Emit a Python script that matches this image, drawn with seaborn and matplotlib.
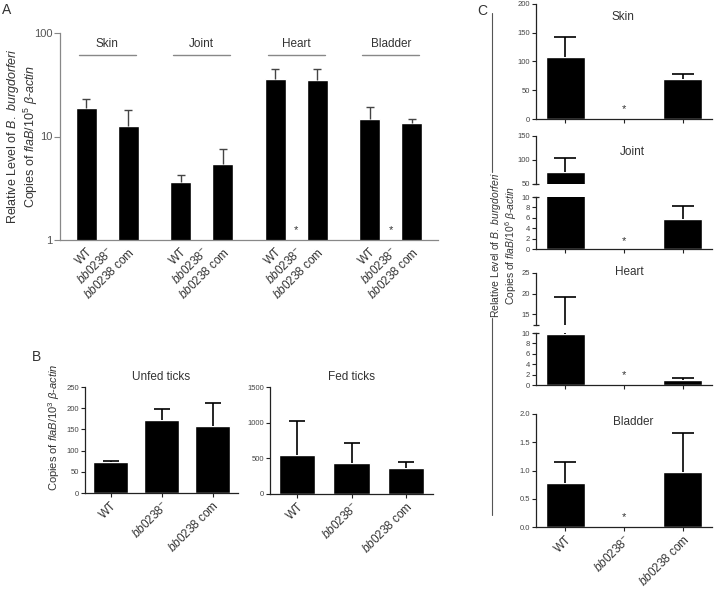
import numpy as np
import pandas as pd
import seaborn as sns
import matplotlib.pyplot as plt
from matplotlib.lines import Line2D

# ---- data ----
strains = ['WT', 'bb0238-', 'bb0238 com']
strain_labels = ['WT', r'$\it{bb0238}^{-}$', r'$\it{bb0238}$ com']

# A: tissue burden, log scale (mutant undetectable)
tissues = ['Skin', 'Joint', 'Heart', 'Bladder']
a_wt = [18.7, 3.6, 35.7, 14.8]
a_wt_err = [4.3, 0.65, 8.9, 4.3]
a_mut = [np.nan, np.nan, np.nan, np.nan]
a_com = [12.6, 5.46, 35.1, 13.6]
a_com_err = [5.4, 2.1, 9.5, 1.2]
a_star = [False, False, True, True]

# B: ticks
b_unfed = [73, 173, 158]
b_unfed_err = [3, 24, 54]
b_fed = [547, 429, 365]
b_fed_err = [476, 290, 84]

# C: tissues, linear scale
c_skin = [108, np.nan, 69]
c_skin_err = [35, 0, 10]
c_joint = [75, np.nan, 5.77]
c_joint_err = [29, 0, 2.5]
c_heart = [9.8, np.nan, 0.9]
c_heart_err = [9.3, 0, 0.4]
c_bladder = [0.78, np.nan, 0.98]
c_bladder_err = [0.37, 0, 0.69]

W, H = 720, 590
TXT = '#333333'

sns.set_style('ticks')
plt.rcParams['font.family'] = ['Liberation Sans', 'DejaVu Sans']
plt.rcParams['mathtext.fontset'] = 'custom'
plt.rcParams['mathtext.rm'] = 'Liberation Sans'
plt.rcParams['mathtext.it'] = 'Liberation Sans:italic'
plt.rcParams['mathtext.sf'] = 'Liberation Sans'
plt.rcParams['text.color'] = TXT
plt.rcParams['axes.labelcolor'] = TXT

fig = plt.figure(figsize=(W / 100, H / 100), dpi=100)


def add_ax(x0, y0, x1, y1):
    return fig.add_axes([x0 / W, 1 - y1 / H, (x1 - x0) / W, (y1 - y0) / H])


def style_ax(ax, spine_color='#222222'):
    for s in ['top', 'right']:
        ax.spines[s].set_visible(False)
    for s in ['left', 'bottom']:
        ax.spines[s].set_color(spine_color)
        ax.spines[s].set_linewidth(0.9)
    ax.tick_params(axis='both', colors=spine_color, labelcolor='#444444',
                   labelsize=5.5, length=3, width=0.8, pad=1.5)


def up_errorbar(ax, x, means, errs, color, lw, capsize):
    # upper whisker only: hide the cap sitting on the bar top
    m = np.array(means, dtype=float)
    e = np.array(errs, dtype=float)
    x = np.asarray(x, dtype=float)
    ok = ~np.isnan(m)
    _, caps, _ = ax.errorbar(x[ok], m[ok], yerr=[np.zeros(ok.sum()), e[ok]],
                             fmt='none', ecolor=color, elinewidth=lw,
                             capsize=capsize, capthick=lw, zorder=3)
    caps[0].set_visible(False)


def draw_bars(ax, means, errs, capsize=6):
    sns.barplot(x=strains, y=means, order=strains, color='black', saturation=1,
                width=0.667, errorbar=None, ax=ax)
    up_errorbar(ax, np.arange(len(strains)), means, errs, 'black', 1.2, capsize)
    ax.set_xlim(-0.5, 2.5)


def rot_labels(ax, size=8.5):
    ax.set_xticks(range(3))
    ax.set_xticklabels(strain_labels, rotation=45, ha='right', va='top',
                       rotation_mode='anchor', fontsize=size, color=TXT)


def star(ax, yfrac):
    ax.text(1, yfrac, '*', transform=ax.get_xaxis_transform(), ha='center',
            va='center', fontsize=8, color=TXT)


def break_mark(ax, yfrac, ms=5):
    ax.plot([0], [yfrac], marker='_', ms=ms, mew=0.9, color='#222222',
            transform=ax.transAxes, clip_on=False)


# ---------------- Panel A ----------------
axA = add_ax(60, 33, 438, 240)
dfA = pd.DataFrame({
    'tissue': np.repeat(tissues, 3),
    'strain': strains * len(tissues),
    'value': np.column_stack([a_wt, a_mut, a_com]).ravel(),
})
sns.barplot(data=dfA, x='tissue', y='value', hue='strain', order=tissues,
            hue_order=strains, palette={s: 'black' for s in strains},
            saturation=1, width=0.667, gap=0, errorbar=None, legend=False,
            ax=axA)
offsets = (np.arange(3) - 1) * 0.667 / 3
xs = np.arange(len(tissues))[:, None] + offsets[None, :]
up_errorbar(axA, xs[:, 0], a_wt, a_wt_err, '#444444', 1.0, 3)
up_errorbar(axA, xs[:, 2], a_com, a_com_err, '#444444', 1.0, 3)
axA.set_yscale('log')
axA.set_ylim(1, 100)
axA.set_xlim(-0.5, 3.5)
axA.set_yticks([1, 10, 100])
axA.set_yticklabels(['1', '10', '100'])
axA.minorticks_off()
style_ax(axA, '#888888')
axA.tick_params(axis='y', labelsize=8, length=4, labelcolor='#555555')
axA.set_xticks(xs.ravel())
axA.set_xticklabels(strain_labels * len(tissues), rotation=45, ha='right',
                    va='top', rotation_mode='anchor', fontsize=8.5, color=TXT)
axA.tick_params(axis='x', length=0, pad=4)
axA.set_xlabel('')
tr = axA.get_xaxis_transform()
for i, t in enumerate(tissues):
    axA.plot([i - 0.3, i + 0.3], [0.894, 0.894], transform=tr, color='#888888',
             lw=1.0, clip_on=False)
    axA.text(i, 0.947, t, transform=tr, ha='center', va='center', fontsize=8.5,
             color=TXT)
    if a_star[i]:
        axA.text(xs[i, 1], 0.05, '*', transform=tr, ha='center', va='center',
                 fontsize=8, color=TXT)
axA.set_ylabel('Relative Level of $\\it{B.\\ burgdorferi}$\n'
               'Copies of $\\it{flaB}$/$10^5$ $\\beta$-$\\it{actin}$',
               fontsize=9, linespacing=1.1)
axA.yaxis.set_label_coords(-0.052, 0.5)

# ---------------- Panel B ----------------
axB1 = add_ax(85, 387, 238, 493)
draw_bars(axB1, b_unfed, b_unfed_err, capsize=5.5)
axB1.set_ylim(0, 250)
axB1.set_yticks(range(0, 251, 50))
style_ax(axB1)
rot_labels(axB1)
axB1.set_title('Unfed ticks', fontsize=8.5, color=TXT, pad=5)
axB1.set_ylabel('Copies of $\\it{flaB}$/$10^3$ $\\beta$-$\\it{actin}$',
                fontsize=8)
axB1.yaxis.set_label_coords(-0.15, 0.62)

axB2 = add_ax(270, 387, 433, 494)
draw_bars(axB2, b_fed, b_fed_err, capsize=5.5)
axB2.set_ylim(0, 1500)
axB2.set_yticks(range(0, 1501, 500))
style_ax(axB2)
rot_labels(axB2)
axB2.set_title('Fed ticks', fontsize=8.5, color=TXT, pad=5)

# ---------------- Panel C ----------------
def no_xlabels(ax):
    ax.set_xticks(range(3))
    ax.set_xticklabels([])


axS = add_ax(536, 4, 712, 119)
draw_bars(axS, c_skin, c_skin_err, capsize=8)
axS.set_ylim(0, 200)
axS.set_yticks(range(0, 201, 50))
style_ax(axS)
no_xlabels(axS)
axS.text(0.495, 0.887, 'Skin', transform=axS.transAxes, ha='center',
         va='center', fontsize=8.5)
star(axS, 0.09)

axJu = add_ax(536, 136, 712, 184)
draw_bars(axJu, c_joint, c_joint_err, capsize=8)
axJu.set_ylim(50, 150)
axJu.set_yticks([50, 100, 150])
style_ax(axJu)
axJu.spines['bottom'].set_visible(False)
axJu.tick_params(axis='x', length=0, labelbottom=False)
axJu.text(0.545, 0.667, 'Joint', transform=axJu.transAxes, ha='center',
          va='center', fontsize=8.5)
break_mark(axJu, 0)

axJl = add_ax(536, 197, 712, 249)
draw_bars(axJl, c_joint, c_joint_err, capsize=8)
axJl.set_ylim(0, 10)
axJl.set_yticks(range(0, 11, 2))
style_ax(axJl)
no_xlabels(axJl)
break_mark(axJl, 1)
star(axJl, 0.15)

axHu = add_ax(536, 273, 712, 325)
draw_bars(axHu, c_heart, c_heart_err, capsize=8)
axHu.set_ylim(12.4, 25)
axHu.set_yticks([15, 20, 25])
style_ax(axHu)
axHu.spines['bottom'].set_visible(False)
axHu.tick_params(axis='x', length=0, labelbottom=False)
axHu.text(0.528, 1.02, 'Heart', transform=axHu.transAxes, ha='center',
          va='center', fontsize=8.5)
break_mark(axHu, 0, ms=4)

axHl = add_ax(536, 333, 712, 385)
draw_bars(axHl, c_heart, c_heart_err, capsize=8)
axHl.set_ylim(0, 10)
axHl.set_yticks(range(0, 11, 2))
style_ax(axHl)
no_xlabels(axHl)
break_mark(axHl, 1)
star(axHl, 0.19)

axBl = add_ax(536, 414, 712, 527)
draw_bars(axBl, c_bladder, c_bladder_err, capsize=8)
axBl.set_ylim(0, 2)
axBl.set_yticks(np.arange(0, 2.01, 0.5))
axBl.set_yticklabels([f'{v:.1f}' for v in np.arange(0, 2.01, 0.5)])
style_ax(axBl)
rot_labels(axBl)
axBl.text(0.551, 0.93, 'Bladder', transform=axBl.transAxes, ha='center',
          va='center', fontsize=8.5)
star(axBl, 0.09)

for ax in [axB1, axB2, axS, axJu, axJl, axHu, axHl, axBl]:
    ax.set_xlabel('')

# shared label for C with bracket lines
fig.text(504 / W, 1 - 245 / H,
         'Relative Level of $\\it{B.\\ burgdorferi}$\n'
         'Copies of $\\it{flaB}$/$10^6$ $\\beta$-$\\it{actin}$',
         rotation=90, ha='center', va='center', fontsize=7.5,
         multialignment='center', linespacing=1.1)
for y0, y1 in [(13, 172), (318, 515)]:
    fig.add_artist(Line2D([492 / W, 492 / W], [1 - y0 / H, 1 - y1 / H],
                          color='#555555', lw=0.8))

# panel letters
fig.text(2 / W, 1 - 3 / H, 'A', fontsize=10, va='top', ha='left')
fig.text(32 / W, 1 - 350 / H, 'B', fontsize=10, va='top', ha='left')
fig.text(477 / W, 1 - 4 / H, 'C', fontsize=10, va='top', ha='left')

fig.savefig('out.png', dpi=100)
